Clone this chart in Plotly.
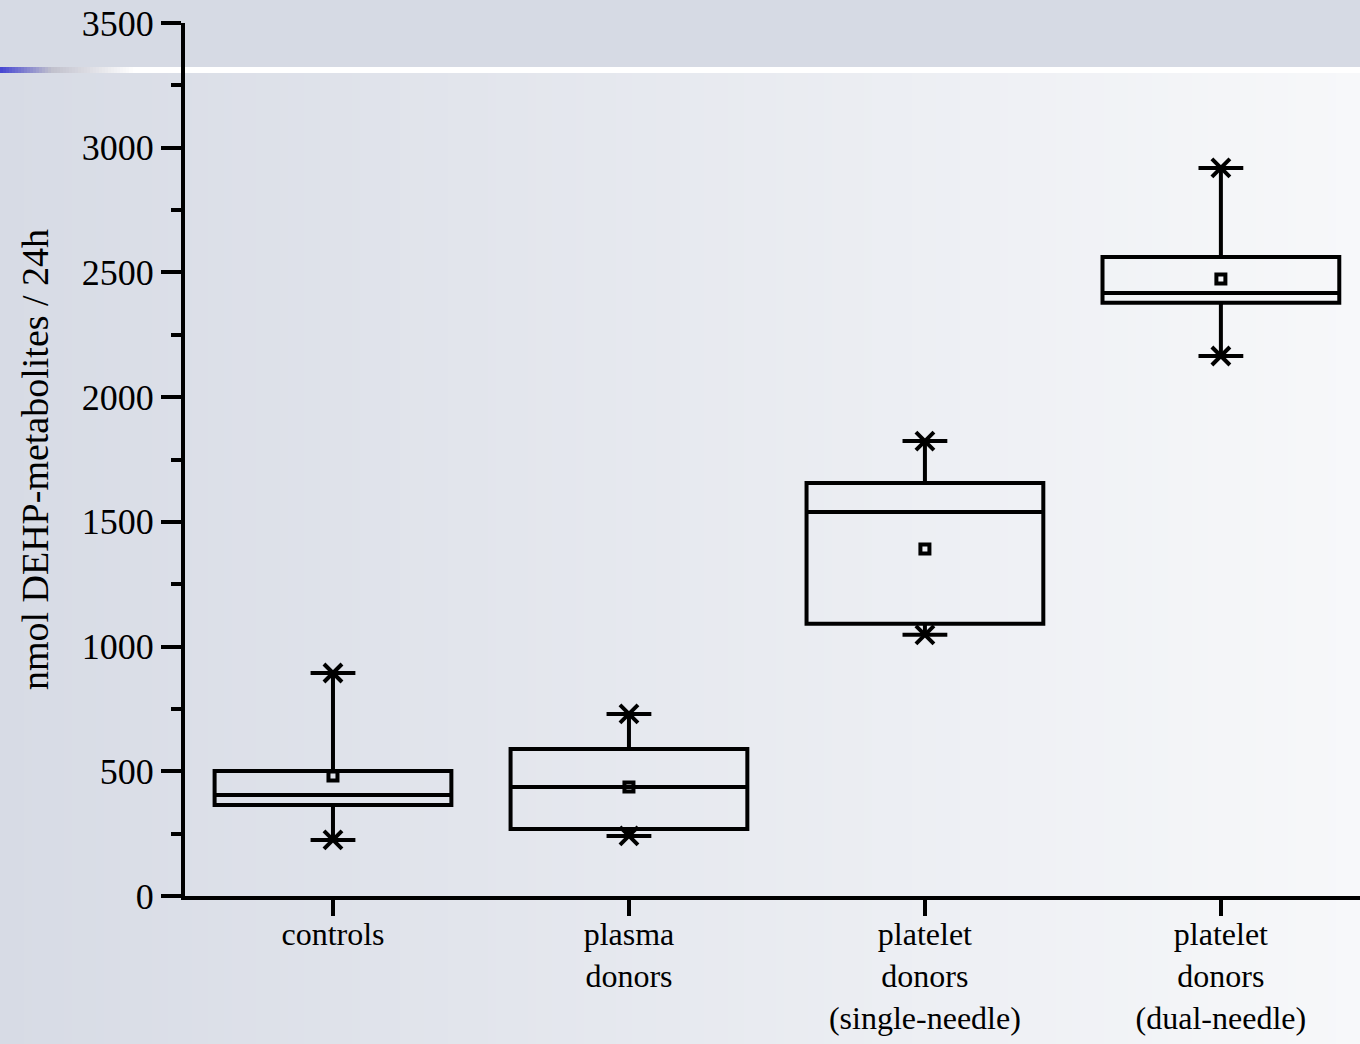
import plotly.graph_objects as go

# Groups and summary statistics (nmol DEHP-metabolites per 24 h)
categories = [
    "controls",
    "plasma<br>donors",
    "platelet<br>donors<br>(single-needle)",
    "platelet<br>donors<br>(dual-needle)",
]
q1_vals = [365, 269, 1091, 2378]
median_vals = [405, 437, 1540, 2418]
q3_vals = [501, 589, 1656, 2562]
mean_vals = [481, 437, 1391, 2474]
low_vals = [225, 241, 1047, 2165]
high_vals = [894, 730, 1824, 2919]

y_ticks = [0, 500, 1000, 1500, 2000, 2500, 3000, 3500]

W, H = 1360, 1044
ML, MR, MT, MB = 185, 0, 23, 148
PW, PH = W - ML - MR, H - MT - MB

FONT = "Liberation Serif, Times New Roman, serif"


def px_x(px):
    return (px - ML) / PW


def px_y(py):
    return (H - MB - py) / PH


def mix(c0, c1, t):
    return "rgb(%d,%d,%d)" % tuple(round(a + (b - a) * t) for a, b in zip(c0, c1))


# Slide-style backdrop: top band, white rule with blue fade, horizontal gradient body
shapes = []
band = (214, 218, 228)
left_c, right_c = (215, 219, 229), (247, 248, 250)
step = 8
for x0 in range(0, W, step):
    t = (x0 + step / 2) / W
    shapes.append(dict(type="rect", xref="paper", yref="paper", layer="below",
                       x0=px_x(x0), x1=px_x(x0 + step + 1), y0=px_y(H + 5), y1=px_y(73),
                       fillcolor=mix(left_c, right_c, t), line=dict(width=0)))
shapes.append(dict(type="rect", xref="paper", yref="paper", layer="below",
                   x0=px_x(0), x1=px_x(W), y0=px_y(73), y1=px_y(0),
                   fillcolor="rgb(%d,%d,%d)" % band, line=dict(width=0)))
shapes.append(dict(type="rect", xref="paper", yref="paper", layer="below",
                   x0=px_x(0), x1=px_x(W), y0=px_y(73), y1=px_y(67),
                   fillcolor="white", line=dict(width=0)))
blue, grey, white = (72, 72, 210), (192, 192, 204), (255, 255, 255)
for x0 in range(0, 132, 3):
    if x0 < 50:
        c = mix(blue, grey, x0 / 50)
    else:
        c = mix(grey, white, (x0 - 50) / 82)
    shapes.append(dict(type="rect", xref="paper", yref="paper", layer="below",
                       x0=px_x(x0), x1=px_x(x0 + 4), y0=px_y(73), y1=px_y(67),
                       fillcolor=c, line=dict(width=0)))

fig = go.Figure()

fig.add_trace(go.Box(
    x=categories,
    q1=q1_vals, median=median_vals, q3=q3_vals,
    lowerfence=low_vals, upperfence=high_vals,
    width=0.8, whiskerwidth=0, boxpoints=False,
    line=dict(color="black", width=4),
    fillcolor="rgba(0,0,0,0)",
    hoverinfo="skip", showlegend=False,
))

# Whisker-end asterisks: horizontal bar + diagonal cross
ext_x = categories + categories
ext_y = low_vals + high_vals
fig.add_trace(go.Scatter(
    x=ext_x, y=ext_y, mode="markers", showlegend=False, hoverinfo="skip",
    marker=dict(symbol="line-ew-open", size=32, color="black",
                line=dict(color="black", width=4)),
))
fig.add_trace(go.Scatter(
    x=ext_x, y=ext_y, mode="markers", showlegend=False, hoverinfo="skip",
    marker=dict(symbol="x-thin-open", size=18, color="black",
                line=dict(color="black", width=4)),
))

# Means
fig.add_trace(go.Scatter(
    x=categories, y=mean_vals, mode="markers", showlegend=False, hoverinfo="skip",
    marker=dict(symbol="square-open", size=9, color="black",
                line=dict(color="black", width=4)),
))

fig.update_layout(
    width=W, height=H,
    margin=dict(l=ML, r=MR, t=MT, b=MB, pad=0),
    paper_bgcolor="rgb(214,218,228)",
    plot_bgcolor="rgba(0,0,0,0)",
    font=dict(family=FONT, color="black", size=36),
    shapes=shapes,
    xaxis=dict(
        type="category", range=[-0.5, 3.47], automargin=False,
        showline=True, linecolor="black", linewidth=4,
        ticks="outside", ticklen=16, tickwidth=4, tickcolor="black",
        tickfont=dict(family=FONT, size=32, color="black"),
        ticklabelstandoff=-9,
        showgrid=False, zeroline=False,
    ),
    yaxis=dict(
        range=[0, 3500], tickvals=y_ticks, automargin=False,
        ticktext=[str(v) for v in y_ticks],
        showline=True, linecolor="black", linewidth=4,
        ticks="outside", ticklen=20, tickwidth=4, tickcolor="black",
        tickfont=dict(family=FONT, size=36, color="black"),
        minor=dict(dtick=250, ticks="outside", ticklen=10, tickwidth=4,
                   tickcolor="black", showgrid=False),
        showgrid=False, zeroline=False,
        title=dict(text="nmol DEHP-metabolites / 24h",
                   font=dict(family=FONT, size=38, color="black"), standoff=22),
    ),
)

fig.write_html("out.html")
